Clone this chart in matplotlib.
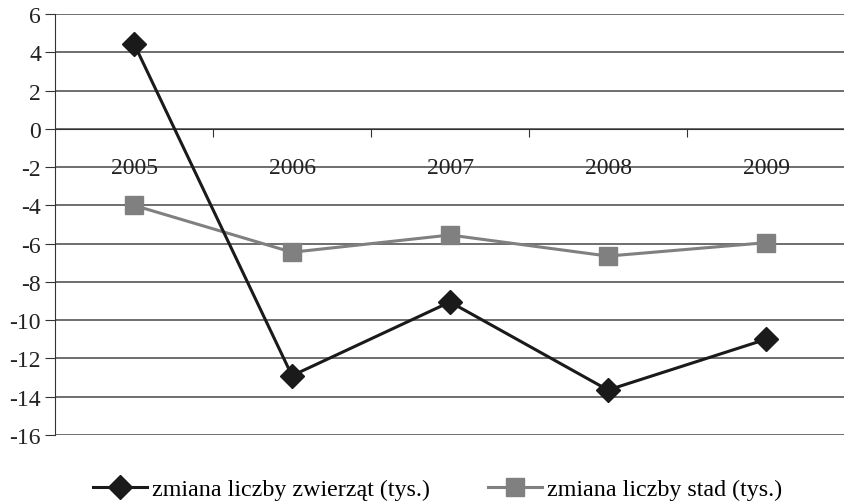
import matplotlib.pyplot as plt
import numpy as np

years = ['2005', '2006', '2007', '2008', '2009']
zwierzeta = [4.45, -12.9, -9.05, -13.65, -11.0]
stada = [-4.0, -6.45, -5.55, -6.65, -5.95]

plt.rcParams['font.family'] = ['Liberation Serif', 'DejaVu Serif']

fig = plt.figure(figsize=(8.45, 5.02), dpi=100)
ax = fig.add_axes([55 / 845, 1 - 436 / 502, 1 - 55 / 845, 421 / 502])

x = np.arange(len(years))
ax.plot(x, zwierzeta, color='#1a1a1a', lw=2.2, marker='D', ms=12,
        label='zmiana liczby zwierząt (tys.)', zorder=4)
ax.plot(x, stada, color='#808080', lw=2.2, marker='s', ms=13,
        label='zmiana liczby stad (tys.)', zorder=3)

ax.set_ylim(-16, 6)
ax.set_xlim(-0.5, 4.45)
ax.set_yticks(np.arange(-16, 7, 2))
ax.set_yticklabels([str(v) for v in range(-16, 7, 2)], fontsize=17)
ax.yaxis.grid(True, color='#555555', lw=1.2)
ax.set_axisbelow(True)

# x axis sits at zero, labels below it
ax.spines['bottom'].set_position(('data', 0))
ax.spines['bottom'].set_color('#333333')
ax.spines['top'].set_visible(False)
ax.spines['right'].set_visible(False)
ax.spines['left'].set_color('#333333')
ax.set_xticks(x + 0.5)
ax.set_xticklabels([])
ax.tick_params(axis='x', direction='out', length=6, color='#333333')
for xi, yr in zip(x, years):
    ax.text(xi, -2, yr, ha='center', va='center', fontsize=17, color='#222222')
ax.tick_params(axis='y', length=7, pad=3, color='#333333', labelcolor='#222222')

fig.legend(loc='center', ncol=2, frameon=False, fontsize=17.3,
           bbox_to_anchor=(0.5 + 15 / 845, 1 - 490 / 502), columnspacing=2.4,
           handlelength=2.25, handletextpad=0.2)

fig.savefig('out.png', dpi=100)
